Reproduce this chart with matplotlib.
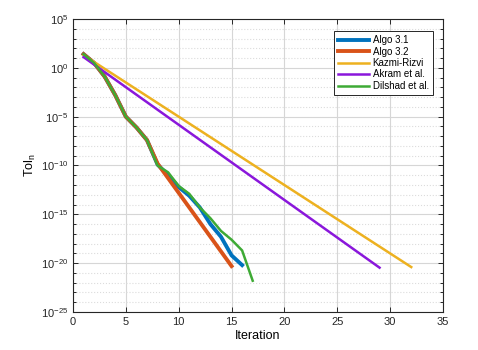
import matplotlib
matplotlib.use("Agg")
import matplotlib.pyplot as plt
import numpy as np
from matplotlib.ticker import LogLocator, FixedLocator, NullFormatter

plt.rcParams['font.family'] = ['Liberation Sans', 'DejaVu Sans']

# log10 of Tol_n
algo31_exp = [1.4, 0.5, -0.9, -2.8, -5.0, -6.1, -7.4, -9.9, -11.0, -12.2,
              -13.1, -14.3, -16.0, -17.3, -19.2, -20.2]
algo32_exp = [1.4, 0.5, -0.9, -2.8, -5.0, -6.1, -7.4, -9.8, -11.3, -12.8,
              -14.3, -15.8, -17.3, -18.8, -20.3]
kazmi_exp = [1.3, 0.6, -0.1, -0.8, -1.5, -2.2, -2.9, -3.6, -4.3, -5.0,
             -5.7, -6.4, -7.1, -7.8, -8.5, -9.2, -9.9, -10.6, -11.3, -12.0,
             -12.7, -13.4, -14.1, -14.8, -15.5, -16.2, -16.9, -17.6, -18.3,
             -19.0, -19.7, -20.4]
akram_exp = [1.1, 0.33, -0.44, -1.21, -1.98, -2.75, -3.52, -4.29, -5.06,
             -5.83, -6.6, -7.37, -8.14, -8.91, -9.68, -10.45, -11.22, -11.99,
             -12.76, -13.53, -14.3, -15.07, -15.84, -16.61, -17.38, -18.15,
             -18.92, -19.69, -20.46]
dilshad_exp = [1.4, 0.5, -0.9, -2.8, -5.0, -6.1, -7.4, -10.0, -10.7, -12.1,
               -12.9, -14.3, -15.4, -16.7, -17.6, -18.7, -21.8]

series = [
    ("Algo 3.1", algo31_exp, "#0072BD", 2.8),
    ("Algo 3.2", algo32_exp, "#D95319", 2.8),
    ("Kazmi-Rizvi", kazmi_exp, "#EDB120", 1.8),
    ("Akram et al.", akram_exp, "#8A17DB", 1.8),
    ("Dilshad et al.", dilshad_exp, "#3EAA35", 1.8),
]

fig = plt.figure(figsize=(4.78, 3.5), dpi=100)
ax = fig.add_axes([0.1527, 0.1086, 0.774, 0.8371])

for name, vals, col, lw in series:
    it = np.arange(1, len(vals) + 1)
    ax.semilogy(it, 10.0 ** np.array(vals), color=col, lw=lw, label=name)

ax.set_xlim(0, 35)
ax.set_ylim(1e-25, 1e5)
ax.set_xticks(np.arange(0, 36, 5))
ax.yaxis.set_major_locator(FixedLocator([10.0 ** e for e in range(-25, 6, 5)]))
ax.yaxis.set_minor_locator(FixedLocator([10.0 ** e for e in range(-25, 6)]))
ax.yaxis.set_minor_formatter(NullFormatter())

ax.grid(True, which='major', color='#d6d6d6', lw=0.8, ls='-')
ax.grid(True, which='minor', axis='y', color='#dcdcdc', lw=0.8, ls=':')
ax.set_axisbelow(True)

ax.tick_params(which='both', direction='in', top=True, right=True,
               labelsize=8, colors='#262626', length=3.5, width=0.7)
ax.tick_params(which='minor', length=2)
for s in ax.spines.values():
    s.set_color('#262626')
    s.set_linewidth(0.8)

ax.set_xlabel("Iteration", fontsize=9, labelpad=2)
ax.set_ylabel("Tol$_\\mathregular{n}$", fontsize=9, labelpad=2)

leg = ax.legend(loc='upper right', fontsize=7, frameon=True, fancybox=False,
                edgecolor='#262626', framealpha=1, handlelength=3.2,
                borderpad=0.4, labelspacing=0.15, handletextpad=0.4,
                bbox_to_anchor=(0.985, 0.975))
leg.get_frame().set_linewidth(0.7)

fig.savefig("out.png", dpi=100)
